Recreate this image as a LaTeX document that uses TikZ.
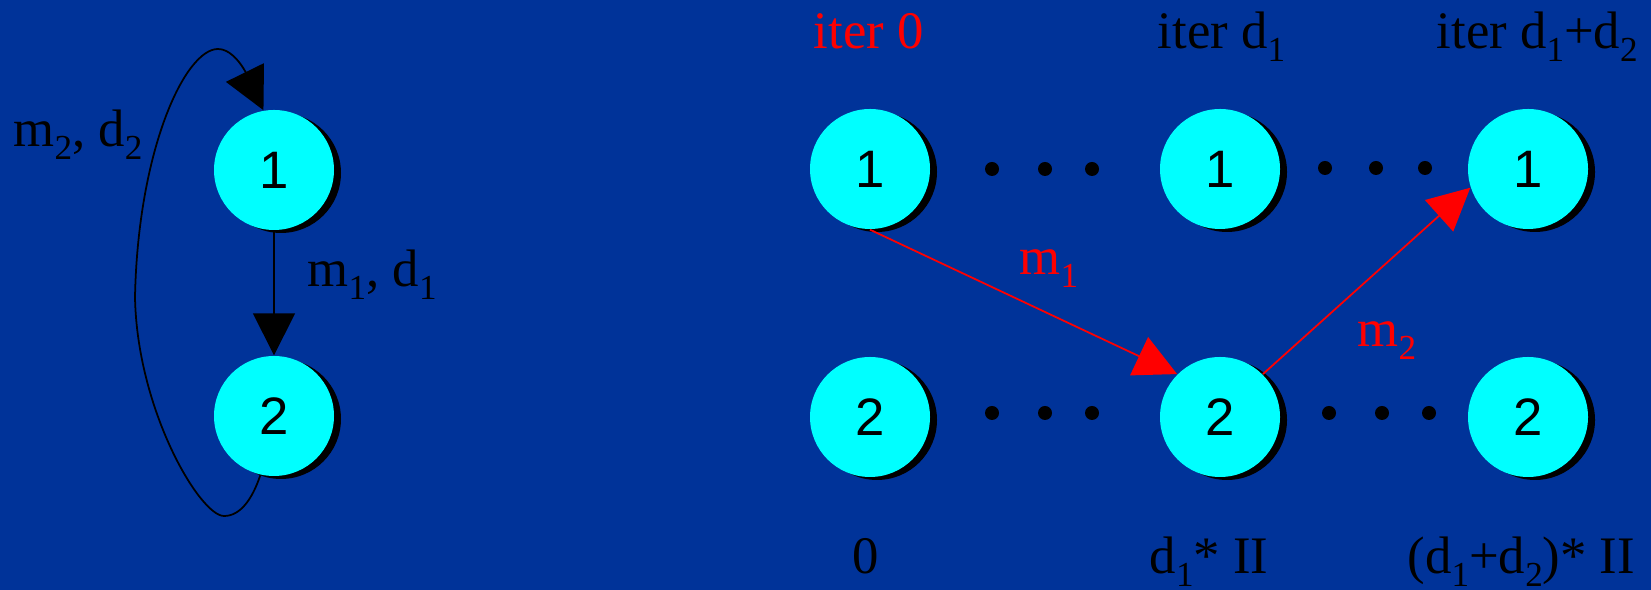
\documentclass[tikz,border=0pt]{standalone}
\usepackage{fontspec}
\setmainfont{Liberation Serif}
\setsansfont{Liberation Sans}
\usepackage{tikz}
\usetikzlibrary{positioning,shadows,arrows.meta}
\definecolor{slideblue}{RGB}{0,51,153}
\definecolor{nodecyan}{RGB}{0,255,255}
\newcommand{\idx}[1]{\raisebox{-3.5pt}{\fontsize{10}{10}\selectfont #1}}

\begin{document}
\begin{tikzpicture}
\tikzstyle{state}=[circle, minimum size=12mm, inner sep=0pt, fill=nodecyan, font=\sffamily\fontsize{15}{15}\selectfont, drop shadow={shadow xshift=0.7mm, shadow yshift=-0.3mm, fill=black, opacity=1}]
\tikzstyle{dot}=[circle, minimum size=1.4mm, inner sep=0pt, fill=black]
\tikzstyle{txt}=[anchor=base west, inner sep=0pt, font=\fontsize{15}{18}\selectfont]
\tikzstyle{dep}=[-{Triangle[length=4.2mm,width=4.2mm]}, line width=0.5pt]
\tikzstyle{msg}=[dep, red]

\fill[slideblue] (0,0) rectangle (16.51,-5.90);
\useasboundingbox (0,0) rectangle (16.51,-5.90);

% dependence graph
\node[state] (n_1) at (2.74,-1.70) {1};
\node[state] (n_2) at (2.74,-4.16) {2};
\node[txt] (l_1) at (3.07,-2.87) {m\idx{1}, d\idx{1}};
\node[txt] (l_2) at (0.13,-1.47) {m\idx{2}, d\idx{2}};

\path (n_1) edge[dep] (n_2);
\draw[dep] (n_2.257) .. controls (2.52,-5.00) and (2.40,-5.16) .. (2.24,-5.16)
	.. controls (2.00,-5.16) and (1.37,-4.10) .. (1.35,-2.97)
	.. controls (1.38,-1.50) and (1.85,-0.49) .. (2.18,-0.49)
	.. controls (2.40,-0.49) and (2.55,-0.93) .. (n_1.100);

% schedule over the iterations
\node[state] (a_1) at (8.70,-1.69) {1};
\node[state] (b_1) at (12.20,-1.69) {1};
\node[state] (c_1) at (15.28,-1.69) {1};
\node[state] (a_2) at (8.70,-4.17) {2};
\node[state] (b_2) at (12.20,-4.17) {2};
\node[state] (c_2) at (15.28,-4.17) {2};

\foreach \x [count=\i] in {9.92,10.45,10.92}
	\node[dot] (dt_\i) at (\x,-1.69) {};
\foreach \x [count=\i] in {13.25,13.76,14.25}
	\node[dot] (du_\i) at (\x,-1.68) {};
\foreach \x [count=\i] in {9.92,10.45,10.92}
	\node[dot] (db_\i) at (\x,-4.13) {};
\foreach \x [count=\i] in {13.29,13.82,14.29}
	\node[dot] (dc_\i) at (\x,-4.13) {};

\node[txt, red] (it_0) at (8.13,-0.49) {iter 0};
\node[txt] (it_1) at (11.57,-0.49) {iter d\idx{1}};
\node[txt] (it_2) at (14.36,-0.49) {iter d\idx{1}+d\idx{2}};
\node[txt] (t_0) at (8.52,-5.74) {0};
\node[txt] (t_1) at (11.49,-5.74) {d\idx{1}* II};
\node[txt] (t_2) at (14.07,-5.74) {(d\idx{1}+d\idx{2})* II};

\node[txt, red] (m_1) at (10.19,-2.75) {m\idx{1}};
\node[txt, red] (m_2) at (13.57,-3.47) {m\idx{2}};

\path
	(a_1.south) edge[msg] (b_2.135)
	(b_2.45) edge[msg] (c_1.198);

\end{tikzpicture}
\end{document}
